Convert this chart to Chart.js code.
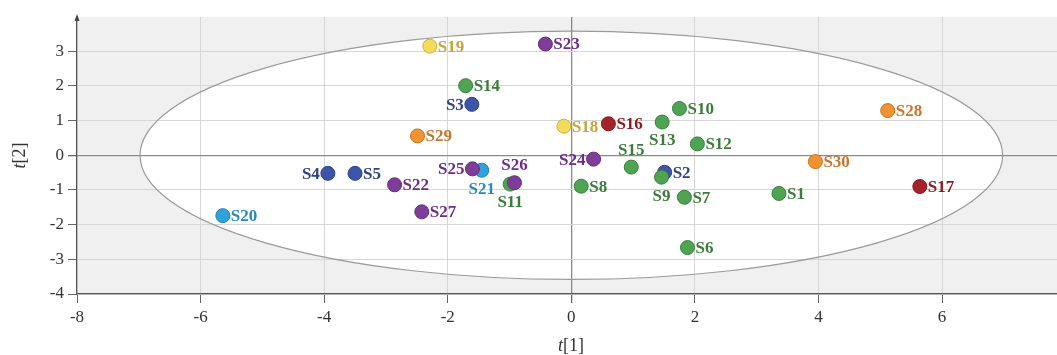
<!DOCTYPE html>
<html>
<head>
<meta charset="utf-8">
<script src="https://cdn.jsdelivr.net/npm/chart.js@4.4.1/dist/chart.umd.min.js"></script>
<style>
  html, body { margin: 0; padding: 0; background: #ffffff; }
  #wrap { width: 1057px; height: 355px; }
</style>
</head>
<body>
<div id="wrap"><canvas id="scoreplot" width="1057" height="355"></canvas></div>
<script>
// Sample names and score values (t[1], t[2]) with their groups
const samples = ['S1','S2','S3','S4','S5','S6','S7','S8','S9','S10',
                 'S11','S12','S13','S14','S15','S16','S17','S18','S19','S20',
                 'S21','S22','S23','S24','S25','S26','S27','S28','S29','S30'];
const t1 = [3.36, 1.51, -1.61, -3.94, -3.50, 1.88, 1.83, 0.16, 1.46, 1.75,
            -0.99, 2.04, 1.47, -1.71, 0.97, 0.60, 5.64, -0.12, -2.29, -5.64,
            -1.45, -2.86, -0.42, 0.36, -1.60, -0.92, -2.42, 5.12, -2.49, 3.95];
const t2 = [-1.10, -0.49, 1.47, -0.52, -0.52, -2.66, -1.21, -0.89, -0.63, 1.35,
            -0.83, 0.33, 0.96, 2.01, -0.34, 0.91, -0.90, 0.84, 3.15, -1.74,
            -0.43, -0.85, 3.21, -0.11, -0.39, -0.79, -1.63, 1.29, 0.56, -0.18];
const groups = ['green','blue','blue','blue','blue','green','green','green','green','green',
                'green','green','green','green','green','red','red','yellow','yellow','cyan',
                'cyan','purple','purple','purple','purple','purple','purple','orange','orange','orange'];

// Hotelling T2 ellipse semi-axes
const ellipseA = 6.98;
const ellipseB = 3.58;

// Axis ticks
const xTicks = [-8, -6, -4, -2, 0, 2, 4, 6];
const yTicks = [-4, -3, -2, -1, 0, 1, 2, 3];

// Group styling (drawing order: first is on top)
const groupOrder = ['purple','cyan','green','blue','yellow','orange','red'];
const groupStyle = {
  green:  { fill: '#4ea453', edge: '#3b7f3f', text: '#3c7b3c' },
  blue:   { fill: '#3c55a6', edge: '#2d4186', text: '#2f4288' },
  purple: { fill: '#7e3d98', edge: '#622d7a', text: '#6c2d88' },
  yellow: { fill: '#f2dc58', edge: '#c9b040', text: '#c4a53a' },
  orange: { fill: '#f39233', edge: '#c8721e', text: '#c47630' },
  red:    { fill: '#a6222a', edge: '#821a20', text: '#8b1c22' },
  cyan:   { fill: '#2ea2da', edge: '#1f7fb0', text: '#2888be' }
};

// Where each point's name sits relative to the marker (default: right)
const labelSide = {
  S3: 'left', S4: 'left', S24: 'left', S25: 'left',
  S21: 'below', S11: 'below', S9: 'below', S13: 'below',
  S26: 'above', S15: 'above'
};

const datasets = groupOrder.map(g => {
  const pts = [];
  samples.forEach((name, i) => {
    if (groups[i] === g) pts.push({ x: t1[i], y: t2[i], name: name });
  });
  const st = groupStyle[g];
  return {
    label: g,
    data: pts,
    backgroundColor: st.fill,
    borderColor: st.edge,
    borderWidth: 1,
    pointRadius: 7,
    pointHoverRadius: 7,
    textColor: st.text
  };
});

const serif = '"Liberation Serif", "DejaVu Serif", serif';

const plotDecor = {
  id: 'plotDecor',
  beforeDraw(chart) {
    const { ctx, chartArea: a, scales: { x, y } } = chart;
    ctx.save();
    ctx.fillStyle = '#f0f0f0';
    ctx.fillRect(a.left, a.top, a.right - a.left, a.bottom - a.top);
    const cx = x.getPixelForValue(0), cy = y.getPixelForValue(0);
    const rx = x.getPixelForValue(ellipseA) - cx;
    const ry = cy - y.getPixelForValue(ellipseB);
    ctx.beginPath();
    ctx.ellipse(cx, cy, rx, ry, 0, 0, Math.PI * 2);
    ctx.fillStyle = '#ffffff';
    ctx.fill();
    ctx.restore();
  },
  beforeDatasetsDraw(chart) {
    const { ctx, scales: { x, y } } = chart;
    const cx = x.getPixelForValue(0), cy = y.getPixelForValue(0);
    const rx = x.getPixelForValue(ellipseA) - cx;
    const ry = cy - y.getPixelForValue(ellipseB);
    ctx.save();
    ctx.beginPath();
    ctx.ellipse(cx, cy, rx, ry, 0, 0, Math.PI * 2);
    ctx.strokeStyle = '#9a9a9a';
    ctx.lineWidth = 1.2;
    ctx.stroke();
    ctx.restore();
  },
  afterDatasetsDraw(chart) {
    const { ctx } = chart;
    ctx.save();
    ctx.font = 'bold 17px ' + serif;
    ctx.textBaseline = 'middle';
    chart.data.datasets.forEach((ds, di) => {
      const meta = chart.getDatasetMeta(di);
      meta.data.forEach((el, i) => {
        const name = ds.data[i].name;
        const side = labelSide[name] || 'right';
        ctx.fillStyle = ds.textColor;
        let tx = el.x, ty = el.y + 1;
        if (side === 'right') { ctx.textAlign = 'left'; tx = el.x + 8; }
        else if (side === 'left') { ctx.textAlign = 'right'; tx = el.x - 8; }
        else if (side === 'above') { ctx.textAlign = 'center'; ty = el.y - 17; }
        else { ctx.textAlign = 'center'; ty = el.y + 19; }
        ctx.fillText(name, tx, ty);
      });
    });
    ctx.restore();
  },
  afterDraw(chart) {
    const { ctx, chartArea: a } = chart;
    ctx.save();
    // arrow head on the vertical axis
    ctx.fillStyle = '#444';
    ctx.beginPath();
    ctx.moveTo(a.left, a.top - 3);
    ctx.lineTo(a.left - 2.5, a.top + 4);
    ctx.lineTo(a.left + 2.5, a.top + 4);
    ctx.closePath();
    ctx.fill();
    // axis titles: italic t followed by the component index
    ctx.fillStyle = '#333';
    ctx.textBaseline = 'middle';
    const drawTitle = (idx) => {
      ctx.font = 'italic 18px ' + serif;
      const w1 = ctx.measureText('t').width;
      ctx.font = '18px ' + serif;
      const w2 = ctx.measureText(idx).width;
      const start = -(w1 + w2) / 2;
      ctx.textAlign = 'left';
      ctx.font = 'italic 18px ' + serif;
      ctx.fillText('t', start, 0);
      ctx.font = '18px ' + serif;
      ctx.fillText(idx, start + w1, 0);
    };
    ctx.save();
    ctx.translate(571, 346);
    drawTitle('[1]');
    ctx.restore();
    ctx.save();
    ctx.translate(20, (a.top + a.bottom) / 2);
    ctx.rotate(-Math.PI / 2);
    drawTitle('[2]');
    ctx.restore();
    ctx.restore();
  }
};

function zeroPadding(scale) {
  scale.paddingLeft = 0;
  scale.paddingRight = 0;
  scale.paddingTop = 0;
  scale.paddingBottom = 0;
}

new Chart(document.getElementById('scoreplot'), {
  type: 'scatter',
  data: { datasets: datasets },
  plugins: [plotDecor],
  options: {
    responsive: false,
    animation: false,
    devicePixelRatio: 1,
    layout: { autoPadding: false, padding: { top: 17, right: 0, left: 0, bottom: 0 } },
    plugins: { legend: { display: false }, tooltip: { enabled: false } },
    scales: {
      x: {
        type: 'linear',
        min: -8,
        max: 7.86,
        afterBuildTicks(scale) { scale.ticks = xTicks.map(v => ({ value: v })); },
        afterFit(scale) { scale.height = 61; zeroPadding(scale); },
        ticks: {
          color: '#333',
          padding: 4,
          maxRotation: 0,
          font: { family: serif, size: 17 }
        },
        grid: {
          color: ctx => (ctx.tick && ctx.tick.value === 0) ? '#8a8a8a' : '#d6d6d6',
          lineWidth: ctx => (ctx.tick && ctx.tick.value === 0) ? 1.3 : 1,
          tickColor: '#666',
          tickLength: 9,
          drawTicks: true
        },
        border: { display: true, color: '#555', width: 1.2 }
      },
      y: {
        type: 'linear',
        min: -4,
        max: 3.99,
        afterBuildTicks(scale) { scale.ticks = yTicks.map(v => ({ value: v })); },
        afterFit(scale) { scale.width = 77; zeroPadding(scale); },
        ticks: {
          color: '#333',
          padding: 4,
          font: { family: serif, size: 17 }
        },
        grid: {
          color: ctx => (ctx.tick && ctx.tick.value === 0) ? '#8a8a8a' : '#d6d6d6',
          lineWidth: ctx => (ctx.tick && ctx.tick.value === 0) ? 1.3 : 1,
          tickColor: '#666',
          tickLength: 9,
          drawTicks: true
        },
        border: { display: true, color: '#555', width: 1.2 }
      }
    }
  }
});
</script>
</body>
</html>
